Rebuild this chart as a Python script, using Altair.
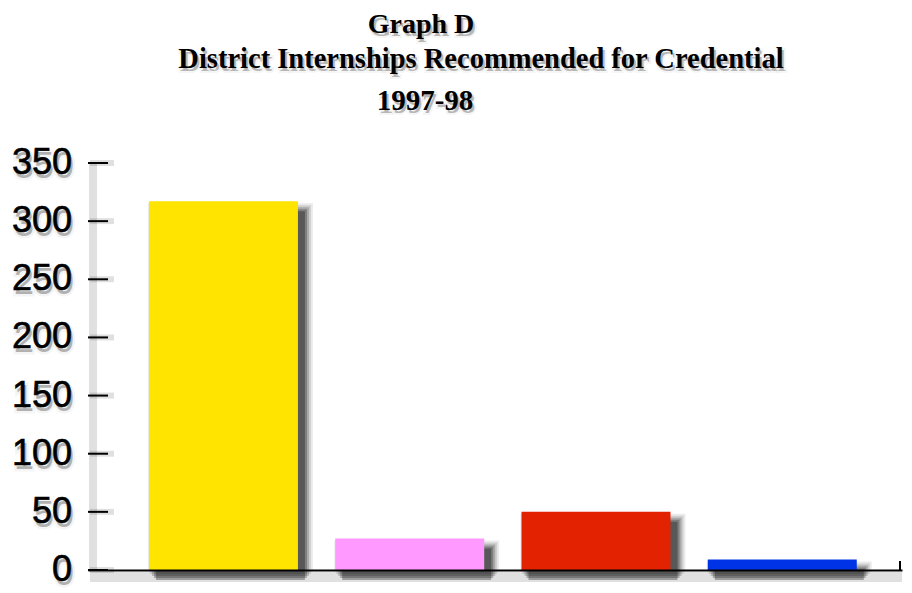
import altair as alt
import pandas as pd

# Bar values
categories = ["A", "B", "C", "D"]
values = [317, 27, 50, 9]
colors = ["#FFE400", "#FF99FF", "#E22200", "#0033E6"]

# Axis ticks
tick_values = [0, 50, 100, 150, 200, 250, 300, 350]

# Title lines
title_main = "Graph D"
title_sub = "District Internships Recommended for Credential"
title_year = "1997-98"

W, H = 814, 407

bars_df = pd.DataFrame({"cat": categories, "val": values, "col": colors})
ticks_df = pd.DataFrame({"v": tick_values, "lbl": [str(v) for v in tick_values]})

y_scale = alt.Scale(domain=[0, 350], nice=False, zero=True)
x_scale = alt.Scale(paddingInner=0.2, paddingOuter=0.285, align=0.574)

x_enc = alt.X("cat:N", sort=categories, scale=x_scale,
              axis=alt.Axis(labels=False, ticks=False, title=None, domain=True,
                            domainColor="#000", domainWidth=2, zindex=2))
y_enc = alt.Y("val:Q", scale=y_scale,
              axis=alt.Axis(labels=False, ticks=False, title=None, grid=False,
                            domain=True, domainColor="#000", domainWidth=2, zindex=2))

base = alt.Chart(bars_df)

# soft drop shadow behind each bar, built from stacked translucent rects
shadow_layers = []
for e, op in [(8, 0.08), (6, 0.12), (4, 0.18), (2, 0.25), (0, 0.3)]:
    shadow_layers.append(
        base.mark_bar(color="#000", opacity=op, width=149 + 2 * e,
                      xOffset=7, yOffset=10 - e, y2Offset=6 + e)
        .encode(x=x_enc, y=y_enc)
    )

bars = base.mark_bar(width=149).encode(
    x=x_enc, y=y_enc, color=alt.Color("col:N", scale=None)
)

# faint shadow along the axes
axis_shadow_x = alt.Chart(ticks_df.head(1)).mark_rule(
    color="#000", opacity=0.12, strokeWidth=10
).encode(x=alt.value(2), x2=alt.value(W), y=alt.value(H + 7))
axis_shadow_y = alt.Chart(ticks_df.head(1)).mark_rule(
    color="#000", opacity=0.12, strokeWidth=8
).encode(x=alt.value(5), y=alt.value(0), y2=alt.value(H))

# inward tick marks on the value axis
tick_rules = alt.Chart(ticks_df).mark_rule(color="#000", strokeWidth=2).encode(
    y=alt.Y("v:Q", scale=y_scale, axis=None), x=alt.value(0), x2=alt.value(20)
)
tick_shadow = alt.Chart(ticks_df).mark_rule(
    color="#000", strokeWidth=6, opacity=0.12
).encode(y=alt.Y("v:Q", scale=y_scale, axis=None), x=alt.value(2), x2=alt.value(26))

# small end tick on the category axis
end_tick = alt.Chart(ticks_df.head(1)).mark_rule(color="#000", strokeWidth=2).encode(
    x=alt.value(W - 2), y=alt.value(H - 9), y2=alt.value(H)
)

label_font = dict(font="Liberation Sans", fontSize=36, align="right", baseline="middle")
tick_label_shadow = alt.Chart(ticks_df).mark_text(
    color="#000", opacity=0.3, stroke="#000", strokeWidth=5, strokeOpacity=0.15,
    dx=2, dy=4, **label_font
).encode(y=alt.Y("v:Q", scale=y_scale, axis=None), x=alt.value(-16), text="lbl:N")
tick_labels = alt.Chart(ticks_df).mark_text(
    color="#000", stroke="#000", strokeWidth=0.6, **label_font
).encode(y=alt.Y("v:Q", scale=y_scale, axis=None), x=alt.value(-16), text="lbl:N")


def shadow_text(txt, cx, by, size):
    d = alt.Data(values=[{"t": txt}])
    f = dict(font="Liberation Serif", fontWeight="bold", fontSize=size,
             align="center", baseline="alphabetic")
    sh = alt.Chart(d).mark_text(
        color="#000", opacity=0.28, stroke="#000", strokeWidth=4, strokeOpacity=0.15,
        dx=2, dy=3, **f
    ).encode(x=alt.value(cx), y=alt.value(by), text="t:N")
    tx = alt.Chart(d).mark_text(color="#000", **f).encode(
        x=alt.value(cx), y=alt.value(by), text="t:N"
    )
    return [sh, tx]


titles = (shadow_text(title_main, 333, -130, 28)
          + shadow_text(title_sub, 393, -95, 28.5)
          + shadow_text(title_year, 337, -53, 29))

chart = alt.layer(
    axis_shadow_x, axis_shadow_y, tick_shadow,
    *shadow_layers, bars,
    tick_rules, end_tick,
    tick_label_shadow, tick_labels,
    *titles,
).properties(
    width=W, height=H,
    padding={"left": 88, "top": 163, "right": 10, "bottom": 23},
    autosize=alt.AutoSizeParams(type="none"),
    background="white",
).configure_view(stroke=None)

chart.save("out.html", embed_options={"renderer": "svg", "actions": False})
